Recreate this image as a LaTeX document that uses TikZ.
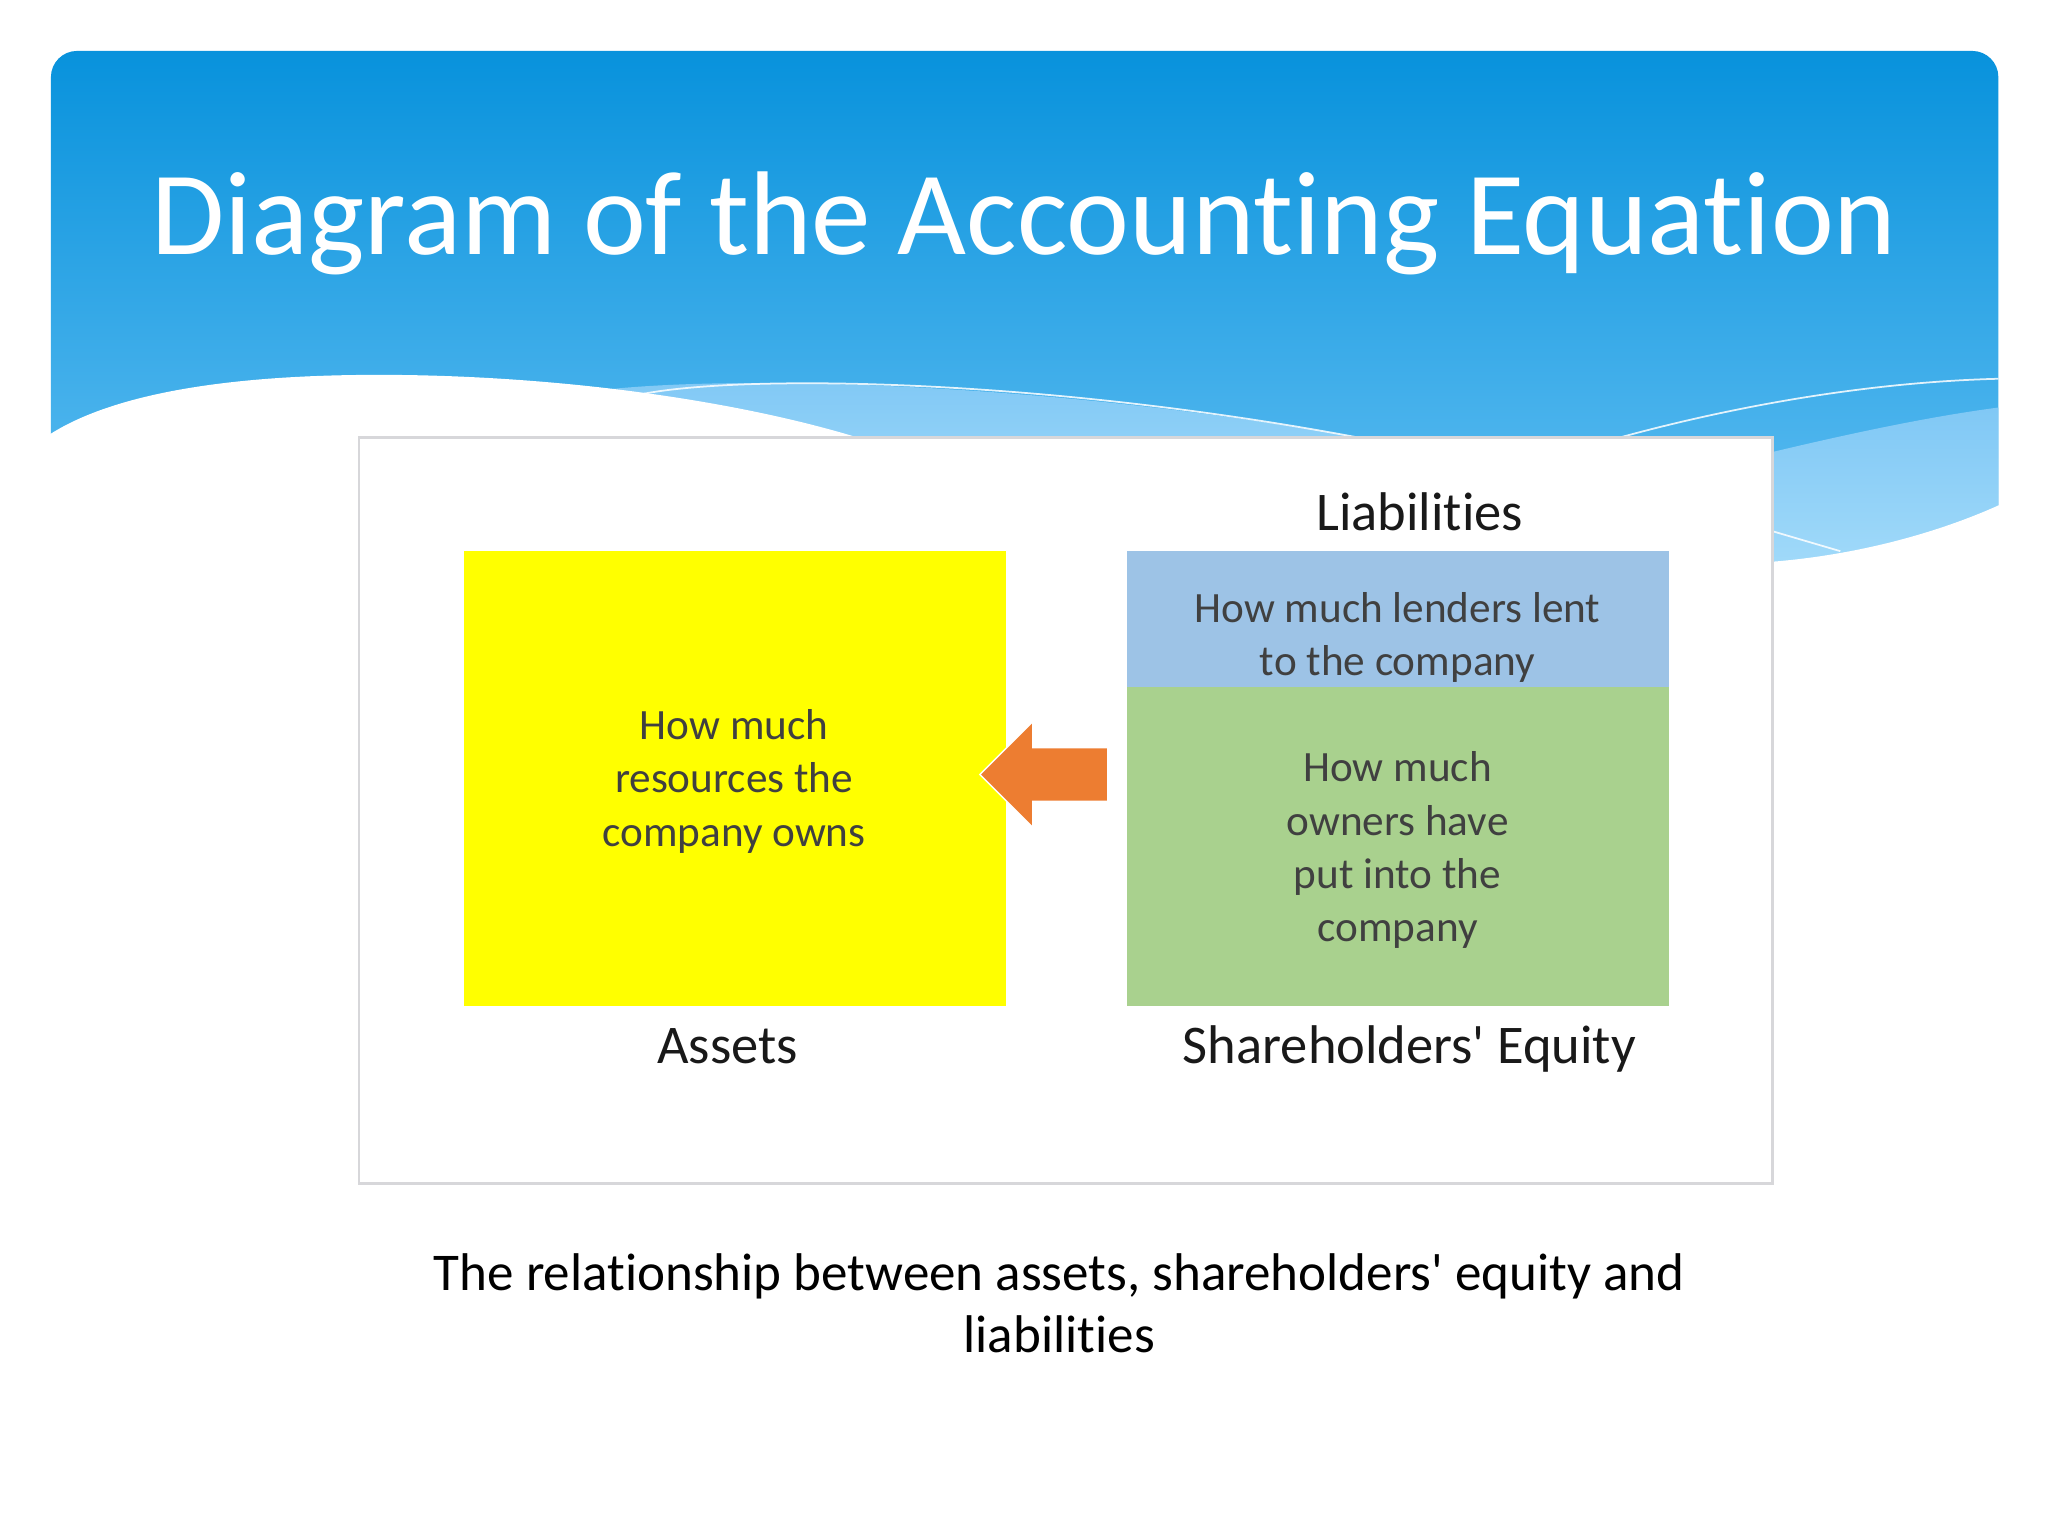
\documentclass[tikz,border=0pt]{standalone}
\usepackage{fontspec}
\setmainfont{Carlito}[Ligatures={CommonOff,TeXOff}]
\usetikzlibrary{shapes.arrows}
\definecolor{hdrTop}{RGB}{8,146,220}
\definecolor{hdrBot}{RGB}{100,192,243}
\definecolor{bandTop}{RGB}{128,200,245}
\definecolor{bandBot}{RGB}{165,220,250}
\definecolor{frameGray}{RGB}{215,215,218}
\definecolor{assetYellow}{RGB}{255,255,0}
\definecolor{liabBlue}{RGB}{157,195,230}
\definecolor{eqGreen}{RGB}{169,209,142}
\definecolor{arrOrange}{RGB}{237,125,49}
\definecolor{boxText}{RGB}{64,64,64}
\def\U{0.013061cm}
\tikzset{
  block/.style={inner sep=0pt, outer sep=0pt, minimum width=415*\U},
  inner/.style={inner sep=0pt, align=center, text=boxText, font=\fontsize{12.3}{15.2}\selectfont},
  label/.style={inner sep=0pt, text=black!90, font=\fontsize{15.5}{18}\selectfont},
}
\begin{document}
\begin{tikzpicture}[x=0.013061cm,y=-0.013061cm]
\useasboundingbox (0,0) rectangle (1568,1176);
\fill[white] (0,0) rectangle (1568,1176);
% header
\shade[top color=hdrTop, bottom color=hdrBot]
  [rounded corners=20*\U] (39,450) -- (39,39) -- (1530,39) [sharp corners] -- (1530,450) -- cycle;
% lighter bands
\shade[top color=bandTop, bottom color=bandBot]
  (450,300) .. controls (550,286) and (800,292) .. (1040,335) -- (1040,420) -- (450,420) -- cycle;
\shade[top color=bandTop, bottom color=bandBot]
  (1300,360) .. controls (1400,335) and (1470,320) .. (1530,312) -- (1530,450) -- (1300,450) -- cycle;
% white wave
\fill[white] (30,338) -- (39,332) .. controls (90,300) and (180,287) .. (290,287)
  .. controls (420,287) and (560,305) .. (660,336) -- (760,400) -- (1300,440)
  -- (1358,430) .. controls (1430,424) and (1490,405) .. (1530,387) -- (1540,383)
  -- (1540,470) -- (30,470) -- cycle;
% thin white lines
\draw[white, line width=0.5pt, opacity=0.85]
  (490,302) .. controls (570,286) and (800,290) .. (1040,335);
\draw[white, line width=0.5pt, opacity=0.85]
  (1240,335) .. controls (1350,305) and (1450,292) .. (1530,290);
\draw[white, line width=0.5pt, opacity=0.85] (1358,407) -- (1409,422);
% title
\node[inner sep=0pt, text=white, font=\fontsize{33.9}{40}\selectfont, anchor=base] (title) at (784,195) {Diagram of the Accounting Equation};
% frame
\node[draw=frameGray, line width=0.7pt, fill=white, inner sep=0pt,
  minimum width=1082*\U, minimum height=571*\U] (frame) at (816,620.5) {};
% blocks
\node[block, fill=assetYellow, minimum height=348*\U] (assets) at (562.5,596) {};
\node[block, fill=liabBlue, minimum height=104*\U] (liab) at (1070.5,474) {};
\node[block, fill=eqGreen, minimum height=244*\U] (equity) at (1070.5,648) {};
% arrow
\node[single arrow, fill=arrOrange, draw=white, line width=0.4pt,
  inner xsep=0pt, inner ysep=20*\U,
  minimum height=98*\U, single arrow head extend=20*\U,
  single arrow tip angle=90, single arrow head indent=0pt,
  shape border rotate=180] (arr) at (809.5,593) {};
% texts
\node[inner] (assetsTxt) at (562,598) {How much\\resources the\\company owns};
\node[inner] (liabTxt) at (1070,488) {How much lenders lent\\to the company};
\node[inner] (equityTxt) at (1070,651) {How much\\owners have\\put into the\\company};
\node[label] (liabLbl) at (1087,392) {Liabilities};
\node[label] (assetsLbl) at (557,801) {Assets};
\node[label] (equityLbl) at (1079,803) {Shareholders' Equity};
% caption
\node[inner sep=0pt, align=center, text=black, font=\fontsize{15.1}{17.6}\selectfont] (caption) at (811,998) {The relationship between assets, shareholders' equity and\\liabilities};
\end{tikzpicture}
\end{document}
